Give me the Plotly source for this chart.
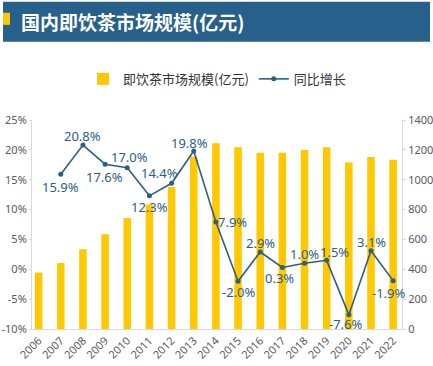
import plotly.graph_objects as go

years = [str(y) for y in range(2006, 2023)]
market_size = [378, 442, 534, 635, 744, 834, 952, 1154, 1244, 1217, 1180, 1180, 1199, 1217, 1116, 1152, 1134]
growth_years = [str(y) for y in range(2007, 2023)]
growth = [15.9, 20.8, 17.6, 17.0, 12.3, 14.4, 19.8, 7.9, -2.0, 2.9, 0.3, 1.0, 1.5, -7.6, 3.1, -1.9]
growth_labels = [f"{v:.1f}%" for v in growth]
# label offsets from point (pixels): (dx, dy) with dy positive upward
label_shift = [(0, -13), (0, 9), (-1, -13), (2, 11), (0, -11), (-12, 10), (-4, 8), (17, 0),
               (1, -11), (0, 9), (-3, -11), (0, 9), (8, 8), (-3, -9), (1, 9), (-4, -12)]
left_ticks = [-10, -5, 0, 5, 10, 15, 20, 25]
left_tick_text = [f"{v}%" for v in left_ticks]
right_ticks = [0, 200, 400, 600, 800, 1000, 1200, 1400]

BAR = "#FFC800"
BLUE = "#2C5E86"
TITLEBG = "#27608A"
GRAY = "#595959"
AX = "#D9D9D9"

W, H = 433, 366
L, R, T, B = 32, 31, 120, 37.4
pw, ph = W - L - R, H - T - B

def px(x):
    return (x - L) / pw

def py(y):
    return (H - B - y) / ph

fig = go.Figure()
fig.add_trace(go.Bar(
    x=years, y=market_size, name="即饮茶市场规模(亿元)",
    marker=dict(color=BAR, line=dict(width=0)), yaxis="y",
))
fig.add_trace(go.Scatter(
    x=growth_years, y=growth, name="同比增长", yaxis="y2",
    mode="lines+markers",
    line=dict(color=BLUE, width=1.6),
    marker=dict(color=BLUE, size=5),
    cliponaxis=False,
))

annotations = [
    dict(text="<b>国内即饮茶市场规模(亿元)</b>", xref="paper", yref="paper",
         x=px(19), y=py(22), xanchor="left", yanchor="middle", showarrow=False,
         font=dict(size=19, color="white", family="Noto Sans CJK SC")),
]
for xv, yv, t, (dx, dy) in zip(growth_years, growth, growth_labels, label_shift):
    annotations.append(dict(
        x=years.index(xv), y=yv, xref="x", yref="y2", text=t, showarrow=False,
        xanchor="center", yanchor="middle", xshift=dx, yshift=dy,
        font=dict(size=13, color=BLUE, family="Noto Sans"),
    ))

fig.update_layout(
    width=W, height=H,
    margin=dict(l=L, r=R, t=T, b=B, pad=0, autoexpand=False),
    paper_bgcolor="white", plot_bgcolor="white",
    font=dict(family="Noto Sans CJK SC, Noto Sans", color=GRAY, size=11),
    bargap=0.66,
    showlegend=True,
    legend=dict(orientation="h", x=0.5, xanchor="center", y=py(79), yanchor="middle",
                font=dict(size=13, color="#333333"),
                traceorder="normal"),
    xaxis=dict(type="category", range=[-0.3, 16.4], tickangle=-45, automargin=False,
               showline=True, linecolor=AX, linewidth=1, ticks="",
               tickfont=dict(size=11, color=GRAY, family="Noto Sans"), showgrid=False),
    yaxis=dict(side="right", range=[0, 1400], tickvals=right_ticks, automargin=False,
               showline=True, linecolor=AX, ticks="outside", ticklen=3, tickcolor=AX,
               showgrid=False, zeroline=False,
               tickfont=dict(size=11, color=GRAY, family="Noto Sans")),
    yaxis2=dict(side="left", overlaying="y", range=[-10, 25], tickvals=left_ticks, automargin=False,
                ticktext=left_tick_text, showline=True, linecolor=AX, ticks="outside", ticklen=2,
                tickcolor=AX, showgrid=False, zeroline=False,
                tickfont=dict(size=11, color=GRAY, family="Noto Sans")),
    shapes=[
        dict(type="rect", xref="paper", yref="paper", x0=px(3), x1=px(430), y0=py(42), y1=py(2),
             fillcolor=TITLEBG, line=dict(width=0), layer="below"),
        dict(type="rect", xref="paper", yref="paper", x0=px(3), x1=px(10), y0=py(25), y1=py(13),
             fillcolor=BAR, line=dict(width=0)),
    ],
    annotations=annotations,
)

fig.write_html("out.html", config={"displayModeBar": False},
               post_script="document.body.style.margin='0';")
